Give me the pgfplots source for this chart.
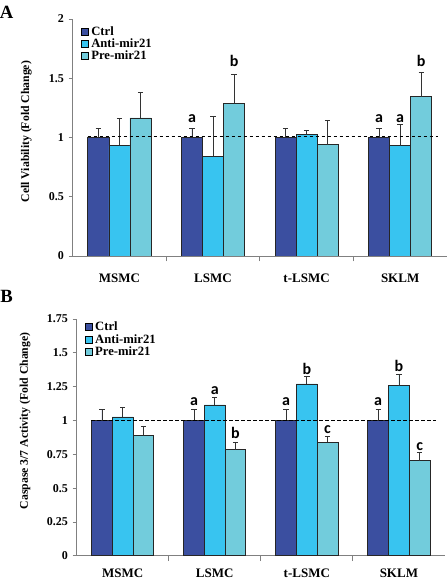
\documentclass[border=0pt]{standalone}
\usepackage{pgfplots}
\pgfplotsset{compat=1.18}
\usepackage{fontspec}
\setmainfont{Liberation Serif}
\newfontfamily\letterfont{Carlito}
\definecolor{cctrl}{RGB}{59,79,160}
\definecolor{canti}{RGB}{56,196,240}
\definecolor{cpre}{RGB}{114,204,220}
\definecolor{axgray}{RGB}{128,128,128}
\tikzset{lett/.style={font=\letterfont\bfseries\fontsize{12}{14}\selectfont, anchor=base, inner sep=0pt}}
\pgfplotsset{
  myaxis/.style={
    scale only axis,
    ybar, bar width=0.225,
    xmin=-0.5, xmax=3.5, ymin=0,
    xtick={0,1,2,3},
    xticklabels={MSMC,LSMC,t-LSMC,SKLM},
    minor xtick={0.5,1.5,2.5},
    major x tick style={draw=none},
    minor tick length=4pt,
    major tick length=3pt,
    tick align=outside,
    axis x line*=bottom, axis y line*=left,
    axis line style={-, draw=axgray, line width=0.6pt},
    every tick/.style={draw=axgray, line width=0.6pt},
    /pgf/number format/assume math mode=true,
    tick label style={font=\bfseries\fontsize{9}{10}\selectfont},
    xticklabel style={font=\bfseries\fontsize{9.75}{11}\selectfont},
    y label style={font=\bfseries\fontsize{8.8}{10}\selectfont},
    legend cell align=left,
    legend image code/.code={\draw[#1,draw=black,line width=0.4pt] (0pt,-2.6pt) rectangle (5.2pt,2.6pt);},
    every axis plot/.append style={draw=black!85, line width=0.6pt},
    error bars/error bar style={draw=black!80, line width=0.6pt},
    error bars/error mark options={draw=black!80, line width=0.6pt, mark size=2pt, rotate=90},
  },
}
\begin{document}
\begin{tikzpicture}
\path[use as bounding box] (0,0) rectangle (336pt,435pt);
% Panel A
\begin{axis}[myaxis,
  at={(54.5pt,243pt)}, anchor=south west,
  width=280.7pt, height=177.75pt,
  ymax=2, ytick={0,0.5,1,1.5,2},
  yticklabels={0,0.5,1,1.5,2},
  ylabel={Cell Viability (Fold Change)},
  y label style={at={(axis description cs:-0.124,0.525)}, anchor=center},
  xticklabel style={yshift=-7pt},
  legend style={at={(0.022,0.975)}, anchor=north west, draw=none, fill=none, inner sep=0pt,
    row sep=0pt, font=\bfseries\fontsize{9.5}{11}\selectfont,
    nodes={inner ysep=1.5pt, text height=6.2pt, text depth=0pt}},
]
\addplot[fill=cctrl, bar shift=-0.225, error bars/.cd, y dir=plus, y explicit]
  coordinates {(0,1.0) += (0,0.078) (1,1.0) += (0,0.078) (2,1.0) += (0,0.078) (3,1.0) += (0,0.078)};
\addplot[fill=canti, bar shift=0, error bars/.cd, y dir=plus, y explicit]
  coordinates {(0,0.934) += (0,0.226) (1,0.84) += (0,0.34) (2,1.027) += (0,0.033) (3,0.93) += (0,0.18)};
\addplot[fill=cpre, bar shift=0.225, error bars/.cd, y dir=plus, y explicit]
  coordinates {(0,1.165) += (0,0.215) (1,1.29) += (0,0.24) (2,0.94) += (0,0.20) (3,1.345) += (0,0.205)};
\legend{Ctrl,Anti-mir21,Pre-mir21}
\addplot[sharp plot, forget plot, draw=black, line width=0.6pt, dash pattern=on 2.5pt off 2pt]
  coordinates {(-0.34,1.012) (3.4,1.012)};
\node[lett] at (axis cs:0.775,1.125) {a};
\node[lett] at (axis cs:1.225,1.60) {b};
\node[lett] at (axis cs:2.775,1.125) {a};
\node[lett] at (axis cs:3.0,1.125) {a};
\node[lett] at (axis cs:3.225,1.60) {b};
\end{axis}
% Panel B
\begin{axis}[myaxis,
  at={(57.5pt,18.2pt)}, anchor=south west,
  width=276.2pt, height=177.5pt,
  ymax=1.75, ytick={0,0.25,0.5,0.75,1,1.25,1.5,1.75},
  yticklabels={0,0.25,0.5,0.75,1,1.25,1.5,1.75},
  ylabel={Caspase 3/7 Activity (Fold Change)},
  y label style={at={(axis description cs:-0.14,0.57)}, anchor=center},
  xticklabel style={yshift=-3pt},
  legend style={at={(0.022,0.995)}, anchor=north west, draw=none, fill=none, inner sep=0pt,
    row sep=0pt, font=\bfseries\fontsize{9.5}{11}\selectfont,
    nodes={inner ysep=1.6pt, text height=6.2pt, text depth=0pt}},
]
\addplot[fill=cctrl, bar shift=-0.225, error bars/.cd, y dir=plus, y explicit]
  coordinates {(0,1.0) += (0,0.083) (1,1.0) += (0,0.083) (2,1.0) += (0,0.083) (3,1.0) += (0,0.083)};
\addplot[fill=canti, bar shift=0, error bars/.cd, y dir=plus, y explicit]
  coordinates {(0,1.026) += (0,0.074) (1,1.115) += (0,0.055) (2,1.27) += (0,0.055) (3,1.257) += (0,0.083)};
\addplot[fill=cpre, bar shift=0.225, error bars/.cd, y dir=plus, y explicit]
  coordinates {(0,0.89) += (0,0.065) (1,0.784) += (0,0.056) (2,0.84) += (0,0.045) (3,0.703) += (0,0.062)};
\legend{Ctrl,Anti-mir21,Pre-mir21}
\addplot[sharp plot, forget plot, draw=black, line width=0.6pt, dash pattern=on 2.5pt off 2pt]
  coordinates {(-0.34,1.0) (3.4,1.0)};
\node[lett] at (axis cs:0.775,1.11) {a};
\node[lett] at (axis cs:1.0,1.195) {a};
\node[lett] at (axis cs:1.225,0.865) {b};
\node[lett] at (axis cs:1.775,1.11) {a};
\node[lett] at (axis cs:2.0,1.34) {b};
\node[lett] at (axis cs:2.225,0.905) {c};
\node[lett] at (axis cs:2.775,1.11) {a};
\node[lett] at (axis cs:3.0,1.36) {b};
\node[lett] at (axis cs:3.225,0.78) {c};
\end{axis}
\node[font=\bfseries\fontsize{14}{16}\selectfont, inner sep=0pt] at (5pt,426pt) {A};
\node[font=\bfseries\fontsize{14}{16}\selectfont, inner sep=0pt] at (5pt,212.5pt) {B};
\end{tikzpicture}
\end{document}
